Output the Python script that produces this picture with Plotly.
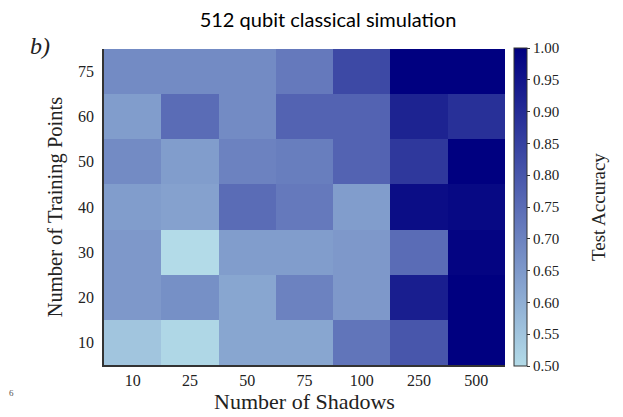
import plotly.graph_objects as go

shadows = ["10", "25", "50", "75", "100", "250", "500"]
training_points = ["10", "20", "30", "40", "50", "60", "75"]

# rows: training points 10 (bottom) .. 75 (top); columns: shadows
acc_10 = [0.55, 0.51, 0.62, 0.62, 0.73, 0.80, 1.00]
acc_20 = [0.65, 0.67, 0.62, 0.70, 0.65, 0.93, 1.00]
acc_30 = [0.65, 0.50, 0.64, 0.64, 0.65, 0.75, 0.99]
acc_40 = [0.64, 0.63, 0.75, 0.72, 0.64, 0.97, 0.98]
acc_50 = [0.68, 0.64, 0.70, 0.71, 0.77, 0.87, 1.00]
acc_60 = [0.64, 0.75, 0.68, 0.77, 0.77, 0.92, 0.89]
acc_75 = [0.68, 0.68, 0.68, 0.72, 0.83, 1.00, 1.00]

z = [acc_10, acc_20, acc_30, acc_40, acc_50, acc_60, acc_75]

serif = "Liberation Serif"
OFF = 8  # page body margin of the html
W, H = 623 - OFF, 417 - OFF
# plot area in page pixels: x 104..505, y 49..365
L, T = 104 - OFF, 49 - OFF
R = W - (505 - OFF)
B = H - (365 - OFF)
pw = W - L - R
ph = H - T - B


def px(xp, yp):
    """page pixel -> paper coords"""
    return (xp - OFF - L) / pw, (H - B - (yp - OFF)) / ph


fig = go.Figure(go.Heatmap(
    x=shadows, y=training_points, z=z,
    zmin=0.5, zmax=1.0,
    colorscale=[[0.0, "#b3dbe8"], [0.5, "#5a6cb6"], [1.0, "#000080"]],
    colorbar=dict(
        x=px(514, 0)[0], xanchor="left", xpad=0,
        y=px(0, 207)[1], yanchor="middle", len=(366 - 48) / ph, ypad=0,
        thickness=13,
        outlinecolor="#333333", outlinewidth=1,
        ticks="outside", ticklen=3, tickcolor="#333333",
        tickvals=[0.5, 0.55, 0.6, 0.65, 0.7, 0.75, 0.8, 0.85, 0.9, 0.95, 1.0],
        tickformat=".2f",
        tickfont=dict(family=serif, size=15, color="#222222"),
    ),
))

fig.update_layout(
    width=W, height=H,
    margin=dict(l=L, r=R, t=T, b=B, autoexpand=False),
    paper_bgcolor="white", plot_bgcolor="white",
    title=dict(text="512 qubit classical simulation", x=(328 - OFF) / W, xanchor="center",
               y=1 - 5 / H, yanchor="top", pad=dict(t=0, b=0, l=0, r=0),
               font=dict(family="Lato", size=20, color="#000000")),
    xaxis=dict(
        type="category", showline=True, linecolor="#333333", linewidth=1.5,
        ticks="", showgrid=False, zeroline=False,
        tickfont=dict(family=serif, size=16, color="#222222"),
        title=dict(text="Number of Shadows", standoff=0,
                   font=dict(family=serif, size=22, color="#222222")),
    ),
    yaxis=dict(
        type="category", showline=True, linecolor="#333333", linewidth=1.5,
        ticks="", showgrid=False, zeroline=False, ticklabelstandoff=5,
        tickfont=dict(family=serif, size=16, color="#222222"),
        title=dict(text="Number of Training Points", standoff=10,
                   font=dict(family=serif, size=20.5, color="#222222")),
    ),
)

bx, by = px(40, 46)
sx, sy = px(11, 393)
cx, cy = px(598, 207)
fig.add_annotation(text="<i>b)</i>", x=bx, y=by, xref="paper", yref="paper",
                   showarrow=False, xanchor="center", yanchor="middle",
                   font=dict(family=serif, size=24, color="#222222"))
fig.add_annotation(text="6", x=sx, y=sy, xref="paper", yref="paper",
                   showarrow=False, xanchor="center", yanchor="middle",
                   font=dict(family=serif, size=9, color="#555555"))
fig.add_annotation(text="Test Accuracy", x=cx, y=cy, xref="paper", yref="paper",
                   showarrow=False, xanchor="center", yanchor="middle", textangle=-90,
                   font=dict(family=serif, size=19, color="#222222"))

fig.write_html("out.html")
